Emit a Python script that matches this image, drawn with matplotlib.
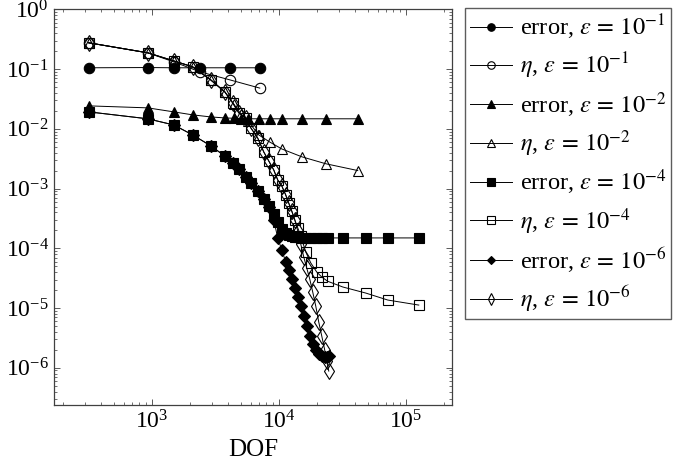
import matplotlib.pyplot as plt

plt.switch_backend("agg")

plt.rcParams["font.family"] = ["Liberation Serif", "DejaVu Serif"]
plt.rcParams["mathtext.fontset"] = "stix"

# eps = 1e-1
dof1 = [319, 930, 1490, 2390, 4110, 7090]
err1 = [0.105, 0.106, 0.105, 0.105, 0.105, 0.105]
eta1 = [0.275, 0.187, 0.132, 0.090, 0.066, 0.048]

# eps = 1e-2
dof2 = [319, 930, 1490, 2100, 2910, 3760, 4420, 5020, 5700, 6960, 8500,
        10560, 15180, 23440, 41880]
err2 = [0.0242, 0.0224, 0.0192, 0.0171, 0.0158, 0.0152, 0.0150, 0.0147,
        0.0147, 0.0147, 0.0147, 0.0147, 0.0147, 0.0147, 0.0147]
eta2 = [0.275, 0.187, 0.137, 0.109, 0.066, 0.0415, 0.0261, 0.0178, 0.0136,
        0.0079, 0.0060, 0.0046, 0.0034, 0.0026, 0.0020]

# eps = 1e-4
dof4 = [319, 930, 1490, 2100, 2910, 3760, 4340, 4840, 5500, 6020, 6830,
        7620, 8340, 9130, 9820, 10560, 11350, 11990, 12660, 13370, 14110,
        14900, 16320, 17860, 19920, 21810, 24310, 31910, 48420, 72160, 126600]
err4 = [0.0192, 0.0147, 0.0116, 0.0079, 0.0052, 0.0035, 0.0027, 0.0021,
        0.00156, 0.00124, 0.00091, 0.00067, 0.00051, 0.00038, 0.00028,
        0.00021, 0.00018, 0.000167, 0.000161, 0.000155, 0.000152, 0.000150,
        0.000149, 0.000149, 0.000149, 0.000149, 0.000149, 0.000149, 0.000149,
        0.000149, 0.000149]
eta4 = [0.275, 0.187, 0.137, 0.109, 0.066, 0.0415, 0.0271, 0.0185, 0.0152,
        0.0104, 0.0070, 0.0041, 0.0029, 0.00205, 0.00139, 0.00111, 0.00078,
        0.00057, 0.00042, 0.00030, 0.00022, 0.000161, 8.7e-5, 5.7e-5, 4.0e-5,
        3.3e-5, 2.8e-5, 2.25e-5, 1.78e-5, 1.36e-5, 1.12e-5]

# eps = 1e-6
dof6 = [319, 930, 1490, 2100, 2910, 3760, 4340, 4840, 5500, 6020, 6830,
        7620, 8340, 9130, 9820, 10560, 11350, 11990, 12660, 13370, 14110,
        14900, 15740, 16610, 17540, 18520, 19560, 20650, 21810, 23020, 23880,
        24760]
err6 = [0.0192, 0.0147, 0.0116, 0.0079, 0.0052, 0.0035, 0.0027, 0.0021,
        0.00156, 0.00124, 0.00091, 0.00067, 0.00049, 0.00030, 0.000149,
        9.4e-5, 5.9e-5, 4.3e-5, 3.1e-5, 2.16e-5, 1.53e-5, 1.08e-5, 7.4e-6,
        5.0e-6, 3.4e-6, 2.5e-6, 2.0e-6, 1.7e-6, 1.57e-6, 1.51e-6, 1.51e-6,
        1.55e-6]
eta6 = [0.275, 0.187, 0.137, 0.109, 0.066, 0.0415, 0.0271, 0.0185, 0.0152,
        0.0104, 0.0070, 0.0041, 0.0029, 0.00205, 0.00139, 0.00111, 0.00078,
        0.00057, 0.00042, 0.00030, 0.000195, 0.000118, 7.15e-5, 4.68e-5,
        3.06e-5, 1.85e-5, 1.08e-5, 5.83e-6, 3.40e-6, 1.98e-6, 1.29e-6, 8.8e-7]

series = [
    (dof1, err1, "o", True, r"error, $\varepsilon\,=\,10^{-1}$"),
    (dof1, eta1, "o", False, r"$\eta$, $\varepsilon\,=\,10^{-1}$"),
    (dof2, err2, "^", True, r"error, $\varepsilon\,=\,10^{-2}$"),
    (dof2, eta2, "^", False, r"$\eta$, $\varepsilon\,=\,10^{-2}$"),
    (dof4, err4, "s", True, r"error, $\varepsilon\,=\,10^{-4}$"),
    (dof4, eta4, "s", False, r"$\eta$, $\varepsilon\,=\,10^{-4}$"),
    (dof6, err6, "D", True, r"error, $\varepsilon\,=\,10^{-6}$"),
    (dof6, eta6, "d", False, r"$\eta$, $\varepsilon\,=\,10^{-6}$"),
]

fig = plt.figure(figsize=(6.85, 4.70), dpi=100)
ax = fig.add_axes([0.0793, 0.1383, 0.5801, 0.8419])

for x, y, mk, filled, lab in series:
    size = 7.5
    if mk == "D":
        size = 5.8
    if mk == "d":
        size = 8
    ax.plot(x, y, color="black", lw=0.7, marker=mk, ms=size,
            mfc="black" if filled else "none", mec="black", mew=0.8,
            label=lab)

ax.set_xscale("log")
ax.set_yscale("log")
ax.set_xlim(171, 2.3e5)
ax.set_ylim(2.38e-7, 1)
ax.set_xlabel("DOF", fontsize=18, labelpad=4)

for sp in ax.spines.values():
    sp.set_color("0.25")
    sp.set_linewidth(0.9)
ax.tick_params(which="both", direction="in", top=True, right=True,
               colors="0.35", labelcolor="black", labelsize=17)
ax.tick_params(which="major", length=4.5, width=0.7, pad=4)
ax.tick_params(which="minor", length=2.5, width=0.6)

leg = fig.legend(loc="upper left", bbox_to_anchor=(0.679, 0.983),
                 fontsize=17.6, frameon=True, fancybox=False, edgecolor="0.2",
                 handlelength=1.75, handletextpad=0.3, labelspacing=0.36,
                 borderpad=0.18, markerscale=0.72, borderaxespad=0)
leg.get_frame().set_linewidth(1.0)

fig.savefig("out.png", dpi=100)
plt.close(fig)
